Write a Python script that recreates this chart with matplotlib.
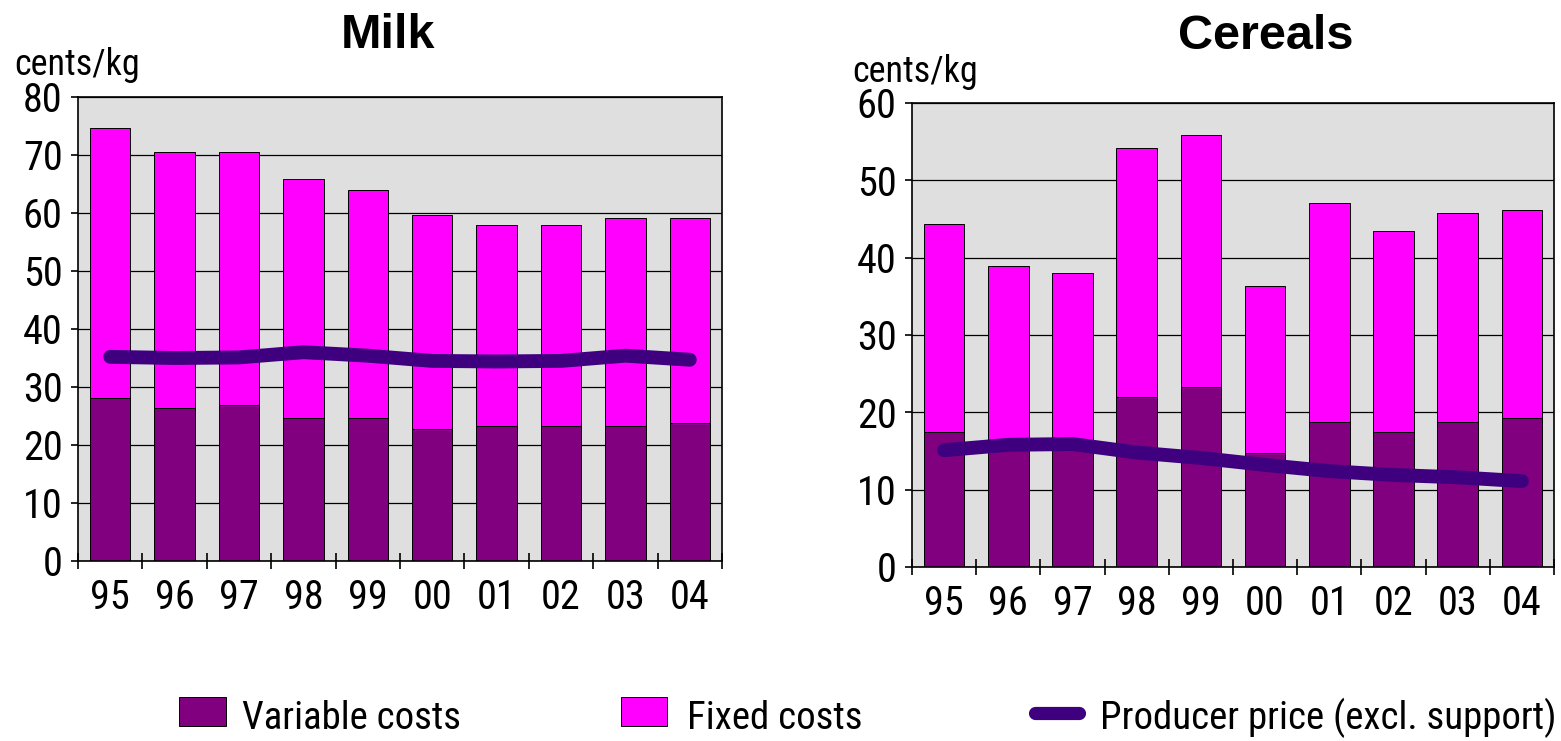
import matplotlib
matplotlib.use("Agg")
import matplotlib.pyplot as plt
from matplotlib.patches import Rectangle
from matplotlib.lines import Line2D

# condensed sans for axis text, Arial-like bold for the titles
NARROW = "Roboto Condensed"
BOLD = "Liberation Sans"

years = ["95", "96", "97", "98", "99", "00", "01", "02", "03", "04"]

milk_variable = [28.1, 26.4, 26.9, 24.6, 24.6, 22.8, 23.3, 23.3, 23.3, 23.8]
milk_fixed = [46.6, 44.2, 43.7, 41.2, 39.4, 36.9, 34.7, 34.7, 35.9, 35.4]
milk_price = [35.2, 35.0, 35.1, 36.0, 35.4, 34.5, 34.4, 34.5, 35.4, 34.7]

cereal_variable = [17.5, 16.0, 16.0, 22.0, 23.3, 14.8, 18.8, 17.5, 18.8, 19.3]
cereal_fixed = [26.9, 22.9, 22.0, 32.2, 32.6, 21.5, 28.3, 25.9, 27.0, 26.8]
cereal_price = [15.1, 15.8, 15.9, 14.8, 14.1, 13.2, 12.4, 11.9, 11.6, 11.1]

VAR_C = "#800080"
FIX_C = "#ff00ff"
LINE_C = "#3f007f"
BG = "#dfdfdf"

W, H = 1561, 741
fig = plt.figure(figsize=(W / 100, H / 100), dpi=100)


def px_box(left, top, right, bottom):
    return [left / W, 1 - bottom / H, (right - left) / W, (bottom - top) / H]


def draw_panel(ax, variable, fixed, price, ymax):
    x = list(range(len(years)))
    ax.set_facecolor(BG)
    ax.bar(x, variable, width=0.63, color=VAR_C, edgecolor="black", linewidth=0.7, zorder=2)
    ax.bar(x, fixed, width=0.63, bottom=variable, color=FIX_C, edgecolor="black", linewidth=0.7, zorder=2)
    ax.plot(x, price, color=LINE_C, lw=10, solid_capstyle="round", solid_joinstyle="round", zorder=3)
    ax.set_xlim(-0.5, len(years) - 0.5)
    ax.set_ylim(0, ymax)
    ax.set_yticks(range(0, ymax + 1, 10))
    ax.yaxis.grid(True, color="black", lw=0.9, zorder=1)
    ax.set_axisbelow(True)
    # boundary ticks without labels, year labels on minor ticks
    ax.set_xticks([i - 0.5 for i in range(len(years) + 1)])
    ax.set_xticklabels([])
    ax.set_xticks(x, minor=True)
    ax.set_xticklabels(years, minor=True)
    ax.tick_params(axis="x", which="major", direction="inout", length=12, width=1.2)
    ax.tick_params(axis="x", which="minor", length=0, pad=12, labelsize=29)
    ax.tick_params(axis="y", direction="out", length=5, width=1.2, pad=6, labelsize=29)
    for lab in ax.get_xticklabels(minor=True) + ax.get_yticklabels():
        lab.set_family(NARROW)
    for s in ax.spines.values():
        s.set_color("black")
        s.set_linewidth(1.2)


ax1 = fig.add_axes(px_box(78, 97, 722, 561))
draw_panel(ax1, milk_variable, milk_fixed, milk_price, 80)
ax2 = fig.add_axes(px_box(912, 103, 1554, 567))
draw_panel(ax2, cereal_variable, cereal_fixed, cereal_price, 60)

fig.text(388 / W, 1 - 48 / H, "Milk", family=BOLD, weight="bold", fontsize=35, ha="center", va="baseline")
fig.text(1266 / W, 1 - 49 / H, "Cereals", family=BOLD, weight="bold", fontsize=35, ha="center", va="baseline")
fig.text(14 / W, 1 - 75 / H, "cents/kg", family=NARROW, fontsize=26, ha="left", va="baseline")
fig.text(852 / W, 1 - 82 / H, "cents/kg", family=NARROW, fontsize=26, ha="left", va="baseline")

# legend along the bottom
fig.patches.append(Rectangle((179 / W, 1 - 726 / H), 47 / W, 29 / H, transform=fig.transFigure,
                             facecolor=VAR_C, edgecolor="black", lw=0.7))
fig.patches.append(Rectangle((621 / W, 1 - 726 / H), 46 / W, 29 / H, transform=fig.transFigure,
                             facecolor=FIX_C, edgecolor="black", lw=0.7))
fig.lines.append(Line2D([1035 / W, 1079 / W], [1 - 713 / H, 1 - 713 / H], transform=fig.transFigure,
                        color=LINE_C, lw=9.5, solid_capstyle="round"))
fig.text(242 / W, 1 - 729 / H, "Variable costs", family=NARROW, fontsize=28, va="baseline")
fig.text(687 / W, 1 - 729 / H, "Fixed costs", family=NARROW, fontsize=28, va="baseline")
fig.text(1100 / W, 1 - 729 / H, "Producer price (excl. support)", family=NARROW, fontsize=28, va="baseline")

fig.savefig("out.png", dpi=100)
